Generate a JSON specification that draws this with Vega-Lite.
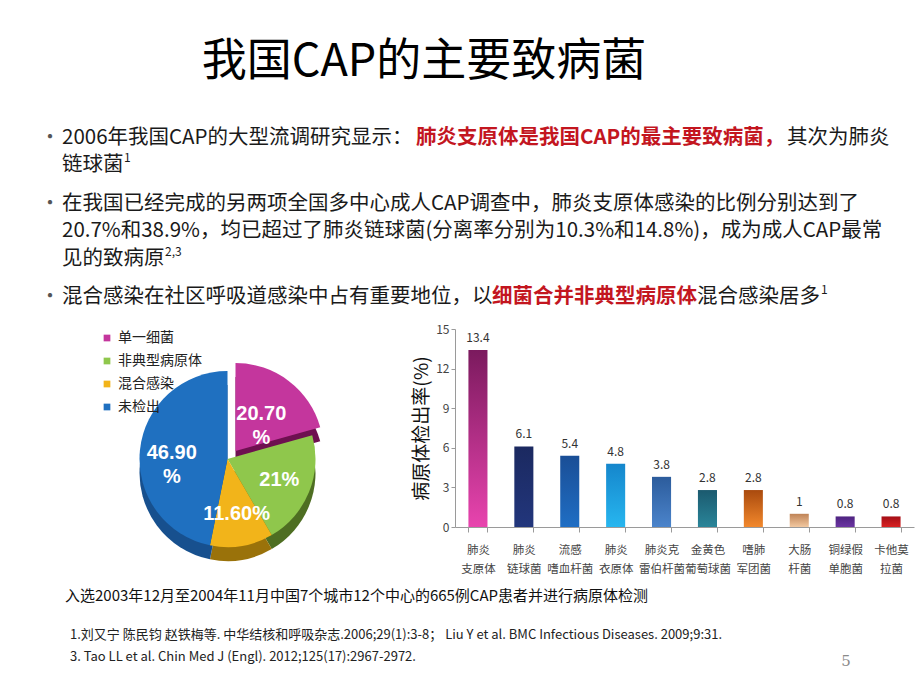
{
  "$schema": "https://vega.github.io/schema/vega-lite/v6.json",
  "padding": 0,
  "background": "white",
  "spacing": 0,
  "bounds": "full",
  "config": {
    "view": {"stroke": null},
    "font": "Noto Sans CJK SC",
    "text": {"font": "Noto Sans CJK SC"}
  },
  "vconcat": [
    {
      "width": 920,
      "height": 323,
      "data": {"values": [
        {"kind": "title", "row": -2.75, "col": 18.1, "t": "我国CAP的主要致病菌"},
        {"kind": "bullet", "row": 0, "col": -0.6, "t": "•"},
        {"kind": "bullet", "row": 2.4, "col": -0.6, "t": "•"},
        {"kind": "bullet", "row": 5.8, "col": -0.6, "t": "•"},
        {"kind": "body", "row": 0, "col": 0, "t": "2006年我国CAP的大型流调研究显示："},
        {"kind": "em", "row": 0, "col": 17.7, "t": "肺炎支原体是我国CAP的最主要致病菌，"},
        {"kind": "body", "row": 0, "col": 36.25, "t": "其次为肺炎"},
        {"kind": "body", "row": 1, "col": 0, "t": "链球菌"},
        {"kind": "sup", "row": 1, "col": 3.1, "t": "1"},
        {"kind": "body", "row": 2.4, "col": 0, "t": "在我国已经完成的另两项全国多中心成人CAP调查中，肺炎支原体感染的比例分别达到了"},
        {"kind": "body", "row": 3.4, "col": 0, "t": "20.7%和38.9%，均已超过了肺炎链球菌(分离率分别为10.3%和14.8%)，成为成人CAP最常"},
        {"kind": "body", "row": 4.4, "col": 0, "t": "见的致病原"},
        {"kind": "sup", "row": 4.4, "col": 5.15, "t": "2,3"},
        {"kind": "body", "row": 5.8, "col": 0, "t": "混合感染在社区呼吸道感染中占有重要地位，以"},
        {"kind": "em", "row": 5.8, "col": 21.5, "t": "细菌合并非典型病原体"},
        {"kind": "body", "row": 5.8, "col": 31.75, "t": "混合感染居多"},
        {"kind": "sup", "row": 5.8, "col": 37.95, "t": "1"}
      ]},
      "encoding": {
        "x": {"field": "col", "type": "quantitative", "scale": {"domain": [-3.1, 42.9], "nice": false, "zero": false}, "axis": null},
        "y": {"field": "row", "type": "quantitative", "scale": {"domain": [-5, 6.745], "nice": false, "zero": false, "reverse": true}, "axis": null},
        "text": {"field": "t", "type": "nominal"}
      },
      "layer": [
        {"transform": [{"filter": "datum.kind === 'title'"}], "mark": {"type": "text", "align": "center", "baseline": "middle", "fontSize": 45, "color": "#000000"}},
        {"transform": [{"filter": "datum.kind === 'body'"}], "mark": {"type": "text", "align": "left", "baseline": "middle", "fontSize": 20.5, "color": "#1a1a1a"}},
        {"transform": [{"filter": "datum.kind === 'em'"}], "mark": {"type": "text", "align": "left", "baseline": "middle", "fontSize": 20.5, "fontWeight": "bold", "color": "#C3161F"}},
        {"transform": [{"filter": "datum.kind === 'sup'"}], "mark": {"type": "text", "align": "left", "baseline": "middle", "fontSize": 12, "dy": -7, "color": "#1a1a1a"}},
        {"transform": [{"filter": "datum.kind === 'bullet'"}], "mark": {"type": "text", "align": "center", "baseline": "middle", "fontSize": 20, "color": "#555555"}}
      ]
    },
    {
      "spacing": 0,
      "bounds": "flush",
      "hconcat": [
        {
          "width": 455,
          "height": 260,
          "data": {"values": [
            {"cat": "单一细菌", "pct": 20.7, "label": "20.70|%", "idx": 1},
            {"cat": "非典型病原体", "pct": 21, "label": "21%", "idx": 2},
            {"cat": "混合感染", "pct": 11.6, "label": "11.60%", "idx": 3},
            {"cat": "未检出", "pct": 46.9, "label": "46.90|%", "idx": 4}
          ]},
          "encoding": {
            "theta": {"field": "pct", "type": "quantitative", "stack": true},
            "order": {"field": "idx", "type": "quantitative"}
          },
          "layer": [
            {
              "mark": {"type": "arc", "outerRadius": 88, "yOffset": 14},
              "encoding": {
                "color": {"field": "cat", "type": "nominal", "scale": {"domain": ["单一细菌", "非典型病原体", "混合感染", "未检出"], "range": ["#6E1050", "#4E6E22", "#9A720A", "#17508E"]}, "legend": null},
                "opacity": {"condition": {"test": "datum.cat === '单一细菌'", "value": 0}, "value": 1}
              }
            },
            {
              "mark": {"type": "arc", "outerRadius": 88, "xOffset": 8, "yOffset": 6},
              "encoding": {
                "color": {"field": "cat", "type": "nominal", "scale": {"domain": ["单一细菌", "非典型病原体", "混合感染", "未检出"], "range": ["#6E1050", "#4E6E22", "#9A720A", "#17508E"]}, "legend": null},
                "opacity": {"condition": {"test": "datum.cat === '单一细菌'", "value": 1}, "value": 0}
              }
            },
            {
              "mark": {"type": "arc", "outerRadius": 88},
              "encoding": {
                "color": {"field": "cat", "type": "nominal", "scale": {"domain": ["单一细菌", "非典型病原体", "混合感染", "未检出"], "range": ["#C4369D", "#8FC74C", "#F2B41A", "#1F70C0"]},
                  "legend": {"title": null, "orient": "none", "legendX": 100, "legendY": 2, "symbolType": "square", "symbolSize": 45, "labelFontSize": 14, "labelColor": "#222222", "rowPadding": 9, "labelFont": "Noto Sans CJK SC"}},
                "opacity": {"condition": {"test": "datum.cat === '单一细菌'", "value": 0}, "value": 1}
              }
            },
            {
              "mark": {"type": "arc", "outerRadius": 88, "xOffset": 8, "yOffset": -8},
              "encoding": {
                "color": {"field": "cat", "type": "nominal", "scale": {"domain": ["单一细菌", "非典型病原体", "混合感染", "未检出"], "range": ["#C4369D", "#8FC74C", "#F2B41A", "#1F70C0"]}, "legend": null},
                "opacity": {"condition": {"test": "datum.cat === '单一细菌'", "value": 1}, "value": 0}
              }
            },
            {
              "mark": {"type": "text", "radius": 56, "fontSize": 20, "fontWeight": "bold", "font": "Liberation Sans", "color": "#ffffff", "lineBreak": "|", "lineHeight": 24},
              "encoding": {"text": {"field": "label", "type": "nominal"}}
            }
          ],
          "resolve": {"scale": {"color": "independent"}}
        },
        {
          "width": 459,
          "height": 198,
          "data": {"values": [
            {"name": "肺炎|支原体", "rate": 13.4, "lab": "13.4"},
            {"name": "肺炎|链球菌", "rate": 6.1, "lab": "6.1"},
            {"name": "流感|嗜血杆菌", "rate": 5.4, "lab": "5.4"},
            {"name": "肺炎|衣原体", "rate": 4.8, "lab": "4.8"},
            {"name": "肺炎克|雷伯杆菌", "rate": 3.8, "lab": "3.8"},
            {"name": "金黄色|葡萄球菌", "rate": 2.8, "lab": "2.8"},
            {"name": "嗜肺|军团菌", "rate": 2.8, "lab": "2.8"},
            {"name": "大肠|杆菌", "rate": 1, "lab": "1"},
            {"name": "铜绿假|单胞菌", "rate": 0.8, "lab": "0.8"},
            {"name": "卡他莫|拉菌", "rate": 0.8, "lab": "0.8"}
          ]},
          "encoding": {
            "x": {"field": "name", "type": "nominal", "sort": null,
              "scale": {"domain": ["肺炎|支原体", "肺炎|链球菌", "流感|嗜血杆菌", "肺炎|衣原体", "肺炎克|雷伯杆菌", "金黄色|葡萄球菌", "嗜肺|军团菌", "大肠|杆菌", "铜绿假|单胞菌", "卡他莫|拉菌"], "paddingInner": 0.585, "paddingOuter": 0.2925},
              "axis": {"title": null, "labelAngle": 0, "labelExpr": "split(datum.label, '|')", "labelFontSize": 11.5, "labelColor": "#444444", "labelLineHeight": 19, "labelPadding": 12, "tickBand": "extent", "tickSize": 5, "domainColor": "#9a9a9a", "tickColor": "#9a9a9a"}},
            "y": {"field": "rate", "type": "quantitative",
              "scale": {"domain": [0, 15], "nice": false},
              "axis": {"values": [0, 3, 6, 9, 12, 15], "title": "病原体检出率(%)", "titleFontSize": 19, "titleFontWeight": "normal", "titleColor": "#111111", "titlePadding": 4, "labelFontSize": 12, "labelColor": "#444444", "grid": false, "domainColor": "#9a9a9a", "tickColor": "#9a9a9a", "tickSize": 4}}
          },
          "layer": [
            {"transform": [{"filter": "datum.name === '肺炎|支原体'"}], "mark": {"type": "bar", "color": {"gradient": "linear", "x1": 0, "y1": 0, "x2": 0, "y2": 1, "stops": [{"offset": 0, "color": "#7B1A5E"}, {"offset": 1, "color": "#E844AE"}]}}},
            {"transform": [{"filter": "datum.name === '肺炎|链球菌'"}], "mark": {"type": "bar", "color": {"gradient": "linear", "x1": 0, "y1": 0, "x2": 0, "y2": 1, "stops": [{"offset": 0, "color": "#1B2960"}, {"offset": 1, "color": "#22367C"}]}}},
            {"transform": [{"filter": "datum.name === '流感|嗜血杆菌'"}], "mark": {"type": "bar", "color": {"gradient": "linear", "x1": 0, "y1": 0, "x2": 0, "y2": 1, "stops": [{"offset": 0, "color": "#1A4E96"}, {"offset": 1, "color": "#1F6EC4"}]}}},
            {"transform": [{"filter": "datum.name === '肺炎|衣原体'"}], "mark": {"type": "bar", "color": {"gradient": "linear", "x1": 0, "y1": 0, "x2": 0, "y2": 1, "stops": [{"offset": 0, "color": "#1586CC"}, {"offset": 1, "color": "#27B6EF"}]}}},
            {"transform": [{"filter": "datum.name === '肺炎克|雷伯杆菌'"}], "mark": {"type": "bar", "color": {"gradient": "linear", "x1": 0, "y1": 0, "x2": 0, "y2": 1, "stops": [{"offset": 0, "color": "#2C5C9C"}, {"offset": 1, "color": "#4B84CB"}]}}},
            {"transform": [{"filter": "datum.name === '金黄色|葡萄球菌'"}], "mark": {"type": "bar", "color": {"gradient": "linear", "x1": 0, "y1": 0, "x2": 0, "y2": 1, "stops": [{"offset": 0, "color": "#1B5A6F"}, {"offset": 1, "color": "#2A8599"}]}}},
            {"transform": [{"filter": "datum.name === '嗜肺|军团菌'"}], "mark": {"type": "bar", "color": {"gradient": "linear", "x1": 0, "y1": 0, "x2": 0, "y2": 1, "stops": [{"offset": 0, "color": "#A94A0E"}, {"offset": 1, "color": "#F2882C"}]}}},
            {"transform": [{"filter": "datum.name === '大肠|杆菌'"}], "mark": {"type": "bar", "color": {"gradient": "linear", "x1": 0, "y1": 0, "x2": 0, "y2": 1, "stops": [{"offset": 0, "color": "#BF8356"}, {"offset": 1, "color": "#F2C8A0"}]}}},
            {"transform": [{"filter": "datum.name === '铜绿假|单胞菌'"}], "mark": {"type": "bar", "color": {"gradient": "linear", "x1": 0, "y1": 0, "x2": 0, "y2": 1, "stops": [{"offset": 0, "color": "#4E2380"}, {"offset": 1, "color": "#6B35A2"}]}}},
            {"transform": [{"filter": "datum.name === '卡他莫|拉菌'"}], "mark": {"type": "bar", "color": {"gradient": "linear", "x1": 0, "y1": 0, "x2": 0, "y2": 1, "stops": [{"offset": 0, "color": "#A40E16"}, {"offset": 1, "color": "#D82222"}]}}},
            {
              "mark": {"type": "text", "baseline": "bottom", "dy": -5, "fontSize": 12, "color": "#333333"},
              "encoding": {"text": {"field": "lab", "type": "nominal"}}
            }
          ]
        }
      ]
    },
    {
      "width": 920,
      "height": 100,
      "data": {"values": [
        {"kind": "caption", "row": 0, "col": 0.15, "t": "入选2003年12月至2004年11月中国7个城市12个中心的665例CAP患者并进行病原体检测"},
        {"kind": "ref", "row": 1.95, "col": 0.4, "t": "1.刘又宁  陈民钧  赵铁梅等. 中华结核和呼吸杂志.2006;29(1):3-8；  Liu Y et al. BMC Infectious Diseases. 2009;9:31."},
        {"kind": "ref", "row": 3.05, "col": 0.4, "t": "3. Tao LL et al. Chin Med J (Engl). 2012;125(17):2967-2972."},
        {"kind": "page", "row": 3.25, "col": 39.2, "t": "5"}
      ]},
      "encoding": {
        "x": {"field": "col", "type": "quantitative", "scale": {"domain": [-3.1, 42.9], "nice": false, "zero": false}, "axis": null},
        "y": {"field": "row", "type": "quantitative", "scale": {"domain": [-0.25, 4.75], "nice": false, "zero": false, "reverse": true}, "axis": null},
        "text": {"field": "t", "type": "nominal"}
      },
      "layer": [
        {"transform": [{"filter": "datum.kind === 'caption'"}], "mark": {"type": "text", "align": "left", "baseline": "middle", "fontSize": 15, "color": "#111111"}},
        {"transform": [{"filter": "datum.kind === 'ref'"}], "mark": {"type": "text", "align": "left", "baseline": "middle", "fontSize": 13, "color": "#222222"}},
        {"transform": [{"filter": "datum.kind === 'page'"}], "mark": {"type": "text", "align": "center", "baseline": "middle", "fontSize": 15, "font": "DejaVu Serif", "color": "#8a8a8a"}}
      ]
    }
  ]
}
